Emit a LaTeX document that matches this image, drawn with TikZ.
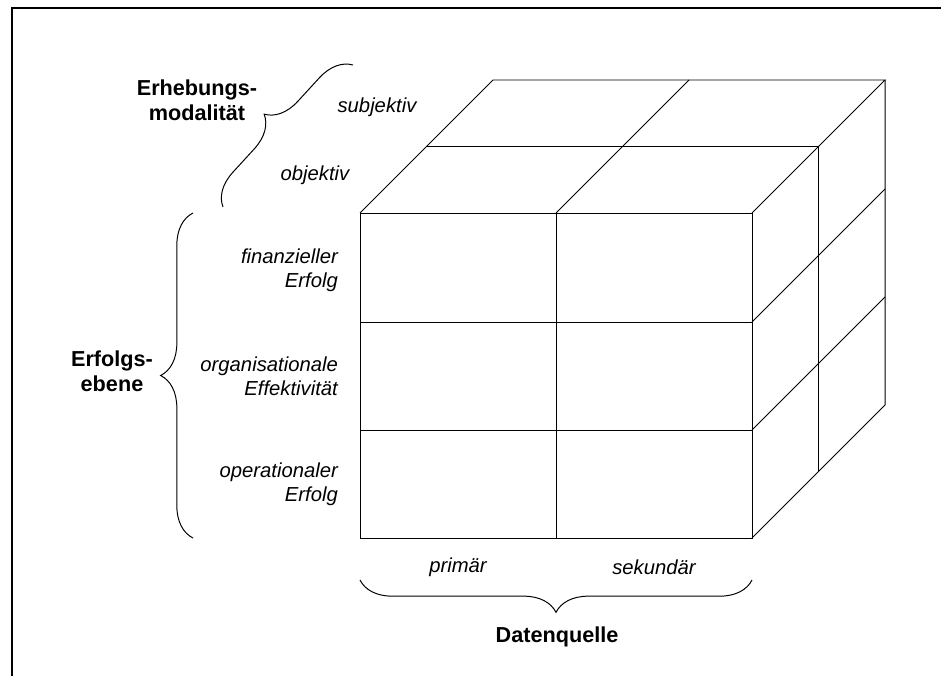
\documentclass[tikz,border=0pt]{standalone}
\usepackage{fontspec}
\setmainfont{Liberation Sans}
\usetikzlibrary{decorations.pathreplacing}

\tikzset{
    achse/.style={font=\fontsize{15.4}{17.5}\selectfont\bfseries, align=center},
    stufe/.style={font=\fontsize{14.4}{17}\selectfont\itshape},
    klammer/.style={decorate, decoration={brace, amplitude=23pt}, line width=0.7pt},
}

\begin{document}
\begin{tikzpicture}[x=0.025cm, y=-0.025cm, line width=0.7pt]
        \useasboundingbox (0,0) rectangle (941,676);
        \draw[line width=1.4pt] (12,676) -- (12,8) -- (941,8);

        % Vorderseite
        \coordinate (vlo) at (360,213);
        \coordinate (vro) at (752,213);
        \coordinate (vlu) at (360,538);
        \coordinate (vru) at (752,538);
        \draw[] (vlo) rectangle (vru);
        \draw[] (556,213) -- (556,538);
        \draw[] (360,322) -- (752,322);
        \draw[] (360,430) -- (752,430);

        % Oberseite
        \draw[] (vlo) -- (493,80) -- (885,80) -- (vro);
        \draw[] (556,213) -- (689,80);
        \draw[] (426.5,146.5) -- (818.5,146.5);

        % rechte Seite
        \draw[] (885,80) -- (885,405) -- (vru);
        \draw[] (752,322) -- (885,189);
        \draw[] (752,430) -- (885,297);
        \draw[] (818.5,146.5) -- (818.5,471.5);

        % Beschriftung der Zellen
        \node[stufe] (subj) at (377,107) {subjektiv};
        \node[stufe] (obj) at (315,175) {objektiv};
        \node[stufe, anchor=east, align=right] (fin) at (343,270) {finanzieller\\Erfolg};
        \node[stufe, anchor=east, align=right] (org) at (343,376) {organisationale\\Effektivität};
        \node[stufe, anchor=east, align=right] (oper) at (343,484) {operationaler\\Erfolg};
        \node[stufe] (prim) at (458,567) {primär};
        \node[stufe] (sek) at (654,567) {sekundär};

        % Klammern und Achsen
        \draw[klammer] (193,538) -- (193,213);
        \draw[klammer] (vru) ++(0,42) coordinate (kr) -- ([yshift=42*-0.025cm]vlu) coordinate (kl);
        \draw[klammer] (223,207) -- (353,65);
        \node[achse] (ebene) at (112,371) {Erfolgs-\\ebene};
        \node[achse] (quelle) at (557,637) {Datenquelle};
        \node[achse] (modal) at (197,100) {Erhebungs-\\modalität};
    \end{tikzpicture}
\end{document}
